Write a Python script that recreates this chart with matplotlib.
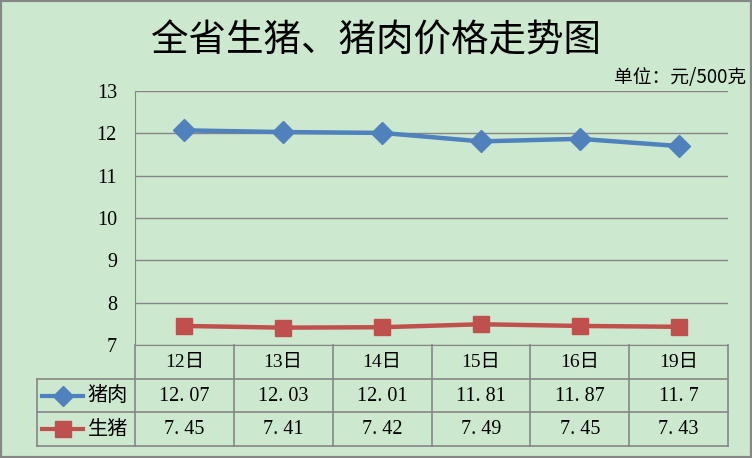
"""
pig price trend chart
"""
import numpy as np
import matplotlib
matplotlib.use('Agg')
import matplotlib.pyplot as plt
from matplotlib.patches import Rectangle
# ------------------------Data--------------------------------------------------
days = ['12日', '13日', '14日', '15日', '16日', '19日']
pork = [12.07, 12.03, 12.01, 11.81, 11.87, 11.7]
hog = [7.45, 7.41, 7.42, 7.49, 7.45, 7.43]
pork_txt = ['12.07', '12.03', '12.01', '11.81', '11.87', '11.7']
hog_txt = ['7.45', '7.41', '7.42', '7.49', '7.45', '7.43']
series_names = ['猪肉', '生猪']
# ------------------------Style-------------------------------------------------
bg = '#CCE8CF'
grid_c = '#868686'
blue = '#4F81BD'
red = '#C0504D'
cjk = ['Noto Sans CJK SC', 'DejaVu Sans']
num_font = ['Liberation Serif', 'Noto Sans CJK SC']
W, H = 752, 458
# ------------------------------------------------------------------------------
fig = plt.figure(figsize=(W/100, H/100), dpi=100, facecolor=bg)
fig.patches.append(Rectangle((0, 0), 1, 1, transform=fig.transFigure,
                             fill=False, edgecolor=grid_c, lw=3))

def fx(px): return px/W
def fy(py): return 1 - py/H

# plot area
L, R, T, B = 135, 728, 91, 345
ax = fig.add_axes([fx(L), fy(B), fx(R-L), (B-T)/H])
ax.set_facecolor(bg)
x = np.arange(len(days))
ax.plot(x, pork, color=blue, lw=3.2, marker='D', ms=11, zorder=3)
ax.plot(x, hog, color=red, lw=3.2, marker='s', ms=12, zorder=3)
ax.set_xlim(-0.5, len(days)-0.5)
ax.set_ylim(7, 13)
ax.set_yticks(range(7, 14))
ax.yaxis.grid(True, color=grid_c, lw=1)
ax.set_axisbelow(True)
for s in ['top', 'right']:
    ax.spines[s].set_visible(False)
ax.spines['left'].set_color(grid_c)
ax.spines['bottom'].set_color(grid_c)
ax.tick_params(axis='y', length=0, pad=13, labelsize=14.5)
ax.tick_params(axis='x', length=0, labelbottom=False)
for t in ax.get_yticklabels():
    t.set_fontfamily(num_font)

# ------------------------Data table--------------------------------------------
TB = 446
tab = fig.add_axes([fx(L), fy(TB), fx(R-L), (TB-B)/H])
tab.set_xlim(-0.5, len(days)-0.5)
tab.set_ylim(3, 0)
tab.axis('off')
left = -0.5 - (L-37)/((R-L)/len(days))
kw = dict(color=grid_c, lw=1.2, clip_on=False)
# horizontal lines
for yy in [1, 2, 3]:
    tab.plot([left, len(days)-0.5], [yy, yy], **kw)
# vertical lines
for xx in np.arange(-0.5, len(days), 1.0):
    tab.plot([xx, xx], [0, 3], **kw)
tab.plot([left, left], [1, 3], **kw)
# header
for i, d in enumerate(days):
    tab.text(i, 0.52, d, ha='center', va='center', fontsize=14, family=num_font)
# rows (wide full-stop like the original font)
for r, vals in enumerate([pork_txt, hog_txt]):
    for i, v in enumerate(vals):
        tab.text(i, r+1.52, v.replace('.', '. '), ha='center', va='center',
                 fontsize=14.5, family=num_font)
# legend keys
mid = left + 0.26
for r, (c, m, s) in enumerate([(blue, 'D', 10), (red, 's', 12)]):
    tab.plot([left+0.05, left+0.47], [r+1.5, r+1.5], color=c, lw=3, clip_on=False)
    tab.plot([mid], [r+1.5], color=c, marker=m, ms=s, clip_on=False)
for r, nm in enumerate(series_names):
    tab.text(left+0.51, r+1.5, nm, ha='left', va='center', fontsize=14.5, family=cjk)

# ------------------------Titles------------------------------------------------
fig.text(fx(376), fy(41), '全省生猪、猪肉价格走势图', ha='center', va='center',
         fontsize=27, family=cjk)
fig.text(fx(746), fy(77), '单位：元/500克', ha='right', va='center',
         fontsize=13.5, family=cjk)

fig.savefig('out.png', dpi=100, facecolor=bg)
